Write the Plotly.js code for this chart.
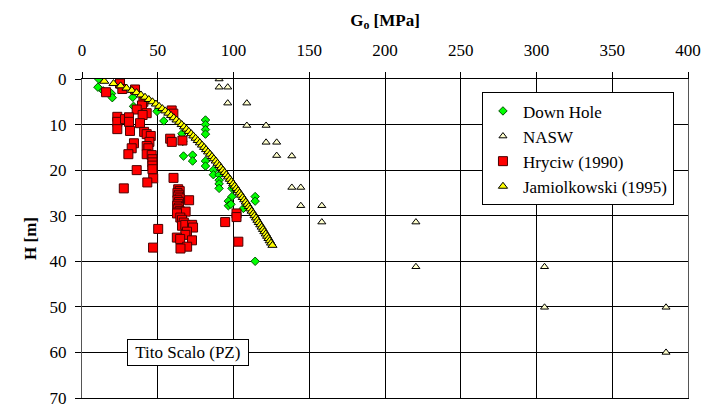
<!DOCTYPE html>
<html>
<head>
<meta charset="utf-8">
<script src="https://cdn.plot.ly/plotly-3.0.1.min.js"></script>
<style>html,body{margin:0;padding:0;background:#fff;}#chart{width:717px;height:410px;}</style>
</head>
<body>
<div id="chart"></div>
<script>
// Down Hole (G0 [MPa], H [m])
const downHoleG = [11, 10.5, 14, 19.5, 20, 33.5, 34, 49.5, 54, 66, 66.5, 81.5, 81.5, 81.5, 81.5, 67, 73, 73, 81.5, 81.5, 86.7, 86.7, 90.5, 90.5, 90.5, 90.5, 99, 99, 96.6, 96.6, 98.3, 106.5, 114.3, 114.3, 114.3];
const downHoleH = [0, 1.8, 2.6, 3.2, 4.1, 4.0, 6.0, 7.1, 9.2, 12.0, 13.7, 9.0, 10.0, 11.1, 12.1, 16.9, 16.7, 18.0, 18.0, 19.1, 20.0, 21.0, 21.0, 22.2, 23.0, 24.0, 24.0, 25.8, 26.8, 27.8, 27.5, 28.4, 25.8, 26.8, 40.0];

// NASW
const naswG = [90.5, 90.5, 96.2, 96.2, 108.8, 108.8, 121.5, 121.5, 128.5, 128.5, 138.5, 138.5, 144.4, 144.4, 158.3, 158.3, 220.4, 220.4, 305.3, 305.3, 385.5, 385.5];
const naswH = [0, 1.8, 1.8, 5.3, 5.3, 10.2, 10.2, 13.9, 13.9, 16.8, 16.9, 23.8, 23.8, 27.8, 27.8, 31.4, 31.4, 41.2, 41.2, 50.1, 50.1, 60.0];

// Hryciw (1990)
const hryciwG = [15.9, 25.1, 26.6, 35, 40.5, 39.6, 36.1, 42.7, 40, 23.3, 23.3, 23.3, 28.4, 31, 31, 38.3, 31.7, 41, 42.7, 45.4, 44.5, 42.7, 43.8, 42.7, 46, 46.5, 46.5, 46.5, 46.5, 47, 34.3, 32.8, 30.6, 36.1, 43.1, 27.6, 60.4, 59.2, 60.3, 58.2, 59.3, 66.3,
  63.5, 64.5, 63, 64, 63.5, 64.5, 63, 64, 63.5, 62.8, 64, 63.2, 64.5, 63.5,
  70.7, 68.4, 62.7, 64.9, 66, 67.2, 66, 68.2, 72.7, 73.3, 69.3, 68.2, 72.6, 62.6, 64.8, 69.4, 65, 50.3, 46.9, 94.5, 102, 102, 103.2];
const hryciwH = [2.9, 1.0, 2.2, 2.3, 5.0, 5.8, 6.7, 7.5, 7.9, 8.3, 9.4, 11.0, 8.8, 8.4, 9.4, 9.7, 11.4, 11.6, 12.1, 12.5, 13.8, 14.7, 15.2, 16.5, 16.7, 17.6, 18.3, 19.0, 19.8, 21.8, 14.1, 15.2, 16.5, 20.0, 22.7, 24.0, 21.7, 6.9, 7.6, 13.1, 13.8, 13.5,
  24.2, 24.6, 25.0, 25.4, 25.8, 26.2, 26.6, 27.0, 27.4, 27.8, 28.2, 28.6, 29.0, 29.3,
  26.6, 29.1, 29.5, 30.4, 30.9, 31.5, 32.2, 32.0, 32.0, 32.6, 33.5, 34.2, 35.4, 34.8, 35.1, 36.8, 37.2, 32.9, 37.0, 31.4, 29.5, 30.3, 35.7];

// Jamiolkowski (1995)
const jamiG = [14.7, 20.8, 25.5, 29.4, 32.9, 36.0, 38.9, 41.6, 44.1, 46.5, 48.8, 50.9, 53.0, 55.0, 57.0, 58.8, 60.6, 62.4, 64.1, 65.8, 67.4, 69.0, 70.5, 72.1, 73.5, 75.0, 76.4, 77.8, 79.2, 80.6, 81.9, 83.2, 84.5, 85.8, 87.0, 88.3, 89.5, 90.7, 91.8, 93.0, 94.2, 95.3, 96.4, 97.6, 98.7, 99.8, 100.8, 101.9, 103.0, 104.0, 105.0, 106.1, 107.1, 108.1, 109.1, 110.1, 111.0, 112.0, 113.0, 113.9, 114.9, 115.8, 116.7, 117.7, 118.6, 119.5, 120.4, 121.3, 122.2, 123.1, 123.9, 124.8, 125.7];
const jamiH = [0.5, 1.0, 1.5, 2.0, 2.5, 3.0, 3.5, 4.0, 4.5, 5.0, 5.5, 6.0, 6.5, 7.0, 7.5, 8.0, 8.5, 9.0, 9.5, 10.0, 10.5, 11.0, 11.5, 12.0, 12.5, 13.0, 13.5, 14.0, 14.5, 15.0, 15.5, 16.0, 16.5, 17.0, 17.5, 18.0, 18.5, 19.0, 19.5, 20.0, 20.5, 21.0, 21.5, 22.0, 22.5, 23.0, 23.5, 24.0, 24.5, 25.0, 25.5, 26.0, 26.5, 27.0, 27.5, 28.0, 28.5, 29.0, 29.5, 30.0, 30.5, 31.0, 31.5, 32.0, 32.5, 33.0, 33.5, 34.0, 34.5, 35.0, 35.5, 36.0, 36.5];

const xTicks = [0, 50, 100, 150, 200, 250, 300, 350, 400];
const yTicks = [0, 10, 20, 30, 40, 50, 60, 70];

const serif = '"Liberation Serif", "Times New Roman", serif';

const traces = [
  {x: downHoleG, y: downHoleH, name: 'Down Hole', type: 'scatter', mode: 'markers',
   marker: {symbol: 'diamond', size: 6.5, color: '#00FF00', line: {color: '#005000', width: 1}}},
  {x: naswG, y: naswH, name: 'NASW', type: 'scatter', mode: 'markers',
   marker: {symbol: 'triangle-up', size: 7, color: '#FFFFCC', line: {color: '#000000', width: 1}}},
  {x: hryciwG, y: hryciwH, name: 'Hryciw (1990)', type: 'scatter', mode: 'markers',
   marker: {symbol: 'square', size: 9, color: '#FF0000', line: {color: '#4A0000', width: 1}}},
  {x: jamiG, y: jamiH, name: 'Jamiolkowski (1995)', type: 'scatter', mode: 'markers',
   marker: {symbol: 'triangle-up', size: 8, color: '#FFFF00', line: {color: '#000000', width: 1}}}
];

const layout = {
  width: 717, height: 410,
  margin: {l: 82, r: 29, t: 79, b: 12},
  paper_bgcolor: '#ffffff', plot_bgcolor: '#ffffff',
  font: {family: serif, size: 17, color: '#000'},
  showlegend: true,
  legend: {x: 0.66, y: 0.958, xanchor: 'left', yanchor: 'top',
    bgcolor: '#ffffff', bordercolor: '#000000', borderwidth: 1,
    font: {family: serif, size: 17, color: '#000'}, tracegroupgap: 0, itemwidth: 30},
  xaxis: {
    side: 'top', range: [0, 400], tickvals: xTicks, ticktext: xTicks.map(String),
    showgrid: true, gridcolor: '#000000', gridwidth: 1, zeroline: false,
    showline: true, linecolor: '#000000', linewidth: 1, mirror: true,
    ticks: 'outside', ticklen: 6, tickcolor: '#000', ticklabelstandoff: 9,
    tickfont: {family: serif, size: 17, color: '#000'},
    title: {text: '<b>G<sub>o</sub> [MPa]</b>', font: {family: serif, size: 17, color: '#000'}, standoff: 10}
  },
  yaxis: {
    range: [70, 0], tickvals: yTicks, ticktext: yTicks.map(String),
    showgrid: true, gridcolor: '#000000', gridwidth: 1, zeroline: false,
    showline: true, linecolor: '#555555', linewidth: 1, mirror: true,
    ticks: 'outside', ticklen: 6, tickcolor: '#000', ticklabelstandoff: 5,
    tickfont: {family: serif, size: 17, color: '#000'},
    title: {text: '<b>H [m]</b>', font: {family: serif, size: 17, color: '#000'}, standoff: 8}
  },
  annotations: [{
    x: 70, y: 60, xref: 'x', yref: 'y', text: '&nbsp;Tito Scalo (PZ)&nbsp;', showarrow: false,
    font: {family: serif, size: 17, color: '#000'},
    bgcolor: '#ffffff', bordercolor: '#000000', borderwidth: 1, borderpad: 3
  }]
};

Plotly.newPlot('chart', traces, layout, {displayModeBar: false, staticPlot: true});
</script>
</body>
</html>
